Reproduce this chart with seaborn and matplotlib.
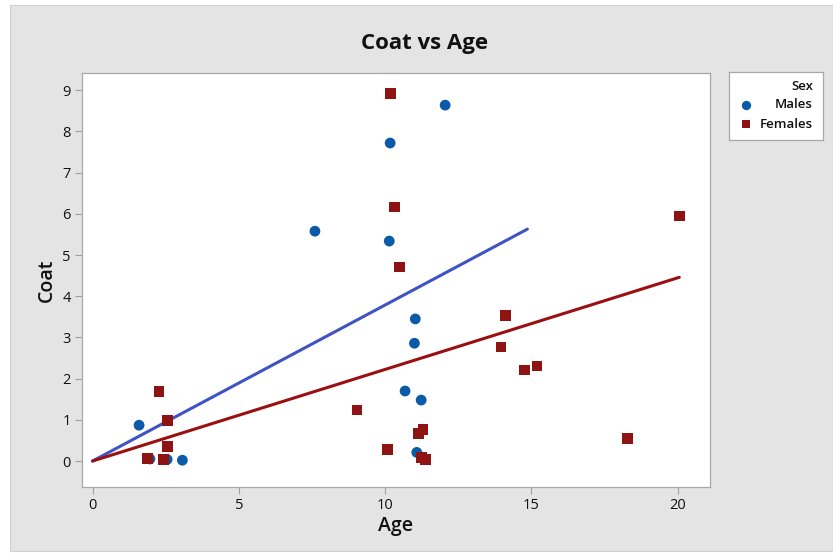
import matplotlib
matplotlib.use("Agg")
import matplotlib.pyplot as plt
from matplotlib.patches import Rectangle
import numpy as np
import pandas as pd
import seaborn as sns

# Observations
male_age = [1.59, 1.96, 2.55, 3.07, 7.60, 10.14, 10.17, 12.05, 11.03, 11.00, 10.68, 11.23, 11.08]
male_coat = [0.87, 0.05, 0.04, 0.02, 5.58, 5.34, 7.72, 8.64, 3.45, 2.86, 1.70, 1.48, 0.21]
female_age = [2.27, 2.57, 2.57, 1.87, 2.42, 9.04, 10.09, 10.17, 10.31, 10.48, 11.14, 11.29,
              11.25, 11.39, 13.96, 14.10, 14.75, 15.19, 18.27, 20.05]
female_coat = [1.68, 0.98, 0.36, 0.07, 0.04, 1.24, 0.28, 8.93, 6.17, 4.71, 0.67, 0.77,
               0.08, 0.04, 2.77, 3.54, 2.21, 2.31, 0.55, 5.95]

# Fitted lines (start and end points)
male_fit_age = [0.0, 14.86]
male_fit_coat = [0.0, 5.63]
female_fit_age = [0.0, 20.05]
female_fit_coat = [0.0, 4.46]

sex_labels = ["Males", "Females"]
x_ticks = [0, 5, 10, 15, 20]
y_ticks = [0, 1, 2, 3, 4, 5, 6, 7, 8, 9]

blue = "#0a5aa8"
red = "#8e1414"
blue_line = "#4053c4"
red_line = "#9a1010"
bg = "#e4e4e4"

df = pd.DataFrame({
    "Age": male_age + female_age,
    "Coat": male_coat + female_coat,
    "Sex": [sex_labels[0]] * len(male_age) + [sex_labels[1]] * len(female_age),
})
fits = pd.DataFrame({
    "Age": male_fit_age + female_fit_age,
    "Coat": male_fit_coat + female_fit_coat,
    "Sex": [sex_labels[0]] * 2 + [sex_labels[1]] * 2,
})

sns.set_theme(style="white")
plt.rcParams["font.family"] = ["Open Sans", "DejaVu Sans"]

fig = plt.figure(figsize=(8.33, 5.56), dpi=100)
fig.patch.set_facecolor("white")
fig.patches.append(Rectangle((10 / 833, 1 - 551 / 556), 823 / 833, 546 / 556,
                             transform=fig.transFigure, facecolor=bg,
                             edgecolor="#d0d0d0", linewidth=0.8, zorder=-10))

ax = fig.add_axes([82 / 833, 1 - 487 / 556, 628 / 833, 414 / 556])
ax.set_facecolor("white")

palette = {sex_labels[0]: blue, sex_labels[1]: red}
line_palette = {sex_labels[0]: blue_line, sex_labels[1]: red_line}

sns.lineplot(data=fits, x="Age", y="Coat", hue="Sex", palette=line_palette,
             linewidth=2.2, legend=False, ax=ax, zorder=2, sort=False,
             estimator=None)
sns.scatterplot(data=df, x="Age", y="Coat", hue="Sex", style="Sex",
                markers={sex_labels[0]: "o", sex_labels[1]: "s"},
                palette=palette, s=60, linewidth=0, legend=False, ax=ax, zorder=3)

ax.set_xlim(-0.36, 21.1)
ax.set_ylim(-0.63, 9.42)
ax.set_xticks(x_ticks)
ax.set_yticks(y_ticks)
ax.tick_params(axis="both", direction="out", length=5, width=0.8, color="#a0a0a0",
               labelsize=10.5, labelcolor="#111111", pad=3, bottom=True, left=True)
for lbl in ax.get_xticklabels() + ax.get_yticklabels():
    lbl.set_fontweight("medium")
for sp in ax.spines.values():
    sp.set_color("#a8a8a8")
    sp.set_linewidth(0.9)

ax.set_xlabel("Age", fontsize=14, fontweight="semibold", color="#111111", labelpad=2)
ax.set_ylabel("Coat", fontsize=14, fontweight="semibold", color="#111111", labelpad=4)
fig.text(425 / 833, 1 - 44 / 556, "Coat vs Age", ha="center", va="center",
         fontsize=16, fontweight="bold", color="#111111")

# Legend panel
lax = fig.add_axes([729 / 833, 1 - 140 / 556, 94 / 833, 68 / 556])
lax.set_xlim(0, 94)
lax.set_ylim(68, 0)
lax.set_xticks([])
lax.set_yticks([])
lax.set_facecolor("white")
for sp in lax.spines.values():
    sp.set_color("#a8a8a8")
    sp.set_linewidth(0.9)
lax.text(84, 15, "Sex", ha="right", va="center", fontsize=9.5, fontweight="semibold", color="#111111")
lax.text(84, 33, sex_labels[0], ha="right", va="center", fontsize=9.5, fontweight="semibold", color="#111111")
lax.text(84, 52, sex_labels[1], ha="right", va="center", fontsize=9.5, fontweight="semibold", color="#111111")
lax.scatter([17], [33], s=45, marker="o", color=blue, linewidth=0)
lax.scatter([17], [52], s=40, marker="s", color=red, linewidth=0)

fig.savefig("out.png", dpi=100, facecolor=fig.get_facecolor())
